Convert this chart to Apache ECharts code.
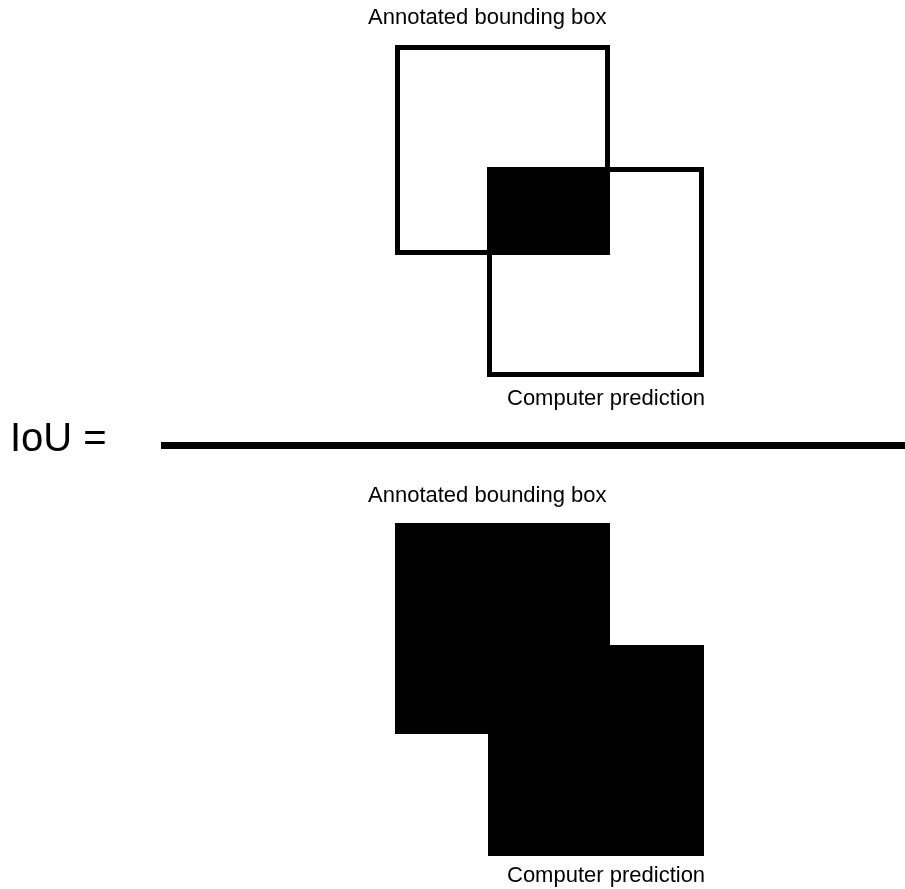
<!DOCTYPE html>
<html>
<head>
<meta charset="utf-8">
<script src="https://cdn.jsdelivr.net/npm/echarts@6/dist/echarts.min.js"></script>
<style>html,body{margin:0;padding:0;background:#fff}#c{width:905px;height:889px}</style>
</head>
<body>
<div id="c"></div>
<script>
// Diagram space (x: 0..905, y: 0..889, y downward)
var boxNames = ['Annotated bounding box', 'Computer prediction'];
// outer edges [x0, y0, x1, y1]
var topBoxes = [[395, 45, 610, 255], [487, 167, 704, 377]];
var bottomBoxes = [[395, 523, 610, 734], [488, 645, 704, 856]];
var intersection = [[487, 167, 610, 255]];
var divider = [[161, 445.5], [905, 445.5]];
// label anchors [x, y]
var topLabels = [[368, 18], [507, 399]];
var bottomLabels = [[368, 496], [507, 876]];
var formulaText = 'IoU =';
var formulaPos = [10, 440];

var chart = echarts.init(document.getElementById('c'), null, {renderer: 'canvas'});

function rectFrom(api, b, inset) {
  var p0 = api.coord([b[0], b[1]]);
  var p1 = api.coord([b[2], b[3]]);
  var x = Math.min(p0[0], p1[0]), y = Math.min(p0[1], p1[1]);
  return {x: x + inset, y: y + inset, width: Math.abs(p1[0] - p0[0]) - 2 * inset, height: Math.abs(p1[1] - p0[1]) - 2 * inset};
}

var SW = 5;
function outlineItem(params, api) {
  var b = [api.value(0), api.value(1), api.value(2), api.value(3)];
  return {type: 'rect', shape: rectFrom(api, b, SW / 2), style: {fill: 'none', stroke: '#000', lineWidth: SW}};
}
function fillItem(params, api) {
  var b = [api.value(0), api.value(1), api.value(2), api.value(3)];
  return {type: 'rect', shape: rectFrom(api, b, 0), style: {fill: '#000'}};
}

chart.setOption({
  animation: false,
  backgroundColor: '#fff',
  grid: {left: 0, right: 0, top: 0, bottom: 0},
  xAxis: {type: 'value', min: 0, max: 905, show: false},
  yAxis: {type: 'value', min: 0, max: 889, inverse: true, show: false},
  series: [
    {type: 'custom', renderItem: outlineItem, data: topBoxes, silent: true},
    {type: 'custom', renderItem: fillItem, data: intersection, silent: true},
    {type: 'custom', renderItem: fillItem, data: bottomBoxes, silent: true},
    {type: 'line', data: divider, symbol: 'none', lineStyle: {color: '#000', width: 7, cap: 'butt'}, silent: true}
  ]
});

function textEl(pos, text, size) {
  var p = chart.convertToPixel({gridIndex: 0}, pos);
  return {
    type: 'text', x: p[0], y: p[1], silent: true,
    style: {text: text, fill: '#000', fontSize: size, fontFamily: '"Liberation Sans", Arial, sans-serif', align: 'left', verticalAlign: 'middle'}
  };
}
var els = [];
topLabels.forEach(function (p, i) { els.push(textEl(p, boxNames[i], 22)); });
bottomLabels.forEach(function (p, i) { els.push(textEl(p, boxNames[i], 22)); });
els.push(textEl(formulaPos, formulaText, 40));
chart.setOption({graphic: {elements: els}});
</script>
</body>
</html>
